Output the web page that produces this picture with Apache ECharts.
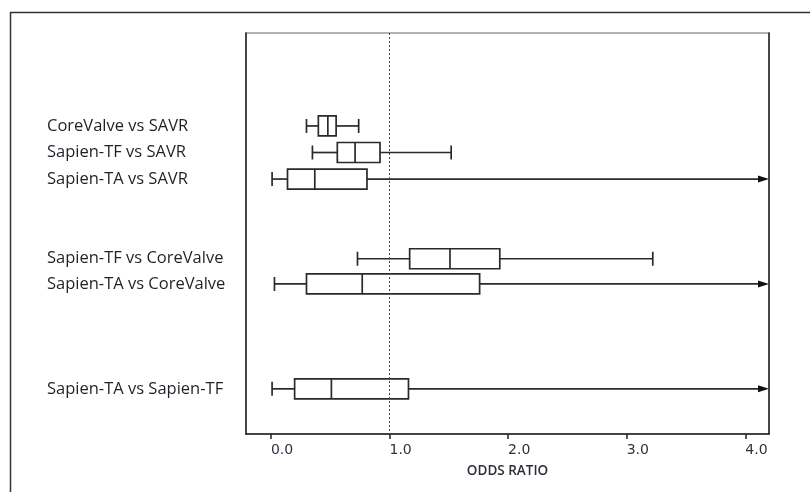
<!DOCTYPE html>
<html>
<head>
    <meta charset="utf-8">
    <title>Odds ratio boxplot</title>
    <script src="https://cdn.jsdelivr.net/npm/echarts@6/dist/echarts.min.js"></script>
</head>
<body style="margin:0">
<div id="main" style="width: 810px;height:492px;"></div>
<script type="text/javascript">
    // comparisons, top to bottom
    var labels = ['CoreValve vs SAVR', 'Sapien-TF vs SAVR', 'Sapien-TA vs SAVR',
        'Sapien-TF vs CoreValve', 'Sapien-TA vs CoreValve', 'Sapien-TA vs Sapien-TF']
    // row position on the (hidden) vertical axis
    var rowPos = [3.5, 4.5, 5.5, 8.5, 9.45, 13.4]
    // box values (odds ratio)
    var lowWhisker = [0.30, 0.35, 0.01, 0.73, 0.03, 0.01]
    var q1 = [0.40, 0.56, 0.14, 1.17, 0.30, 0.20]
    var median = [0.48, 0.71, 0.37, 1.51, 0.77, 0.51]
    var q3 = [0.55, 0.92, 0.81, 1.93, 1.76, 1.16]
    // null = whisker runs past the end of the axis (arrow)
    var highWhisker = [0.74, 1.52, null, 3.22, null, null]
    var xTicks = [0, 1, 2, 3, 4]
    var refLine = 1.0

    var lineCol = '#2a2a2a'

    function renderBox(params, api) {
        var i = params.dataIndex
        var cs = params.coordSys
        var y = api.coord([0, rowPos[i]])[1]
        var xl = api.coord([lowWhisker[i], 0])[0]
        var x1 = api.coord([q1[i], 0])[0]
        var xm = api.coord([median[i], 0])[0]
        var x3 = api.coord([q3[i], 0])[0]
        var xr = highWhisker[i] == null ? cs.x + cs.width : api.coord([highWhisker[i], 0])[0]
        var bh = 10, ch = 7
        var st = {stroke: lineCol, lineWidth: 1.7, fill: null}
        var kids = [
            {type: 'line', shape: {x1: xl, y1: y, x2: x1, y2: y}, style: st},
            {type: 'line', shape: {x1: xl, y1: y - ch, x2: xl, y2: y + ch}, style: st},
            {type: 'rect', shape: {x: x1, y: y - bh, width: x3 - x1, height: bh * 2}, style: {stroke: lineCol, lineWidth: 1.7, fill: '#fff'}},
            {type: 'line', shape: {x1: xm, y1: y - bh, x2: xm, y2: y + bh}, style: st},
            {type: 'text', style: {x: cs.x - 199, y: y, text: labels[i], fill: '#1e2228',
                    font: '16.5px "Open Sans"', verticalAlign: 'middle'}}
        ]
        if (highWhisker[i] == null) {
            kids.push({type: 'line', shape: {x1: x3, y1: y, x2: xr - 6, y2: y}, style: st})
            kids.push({type: 'polygon', shape: {points: [[xr - 11, y - 3.5], [xr, y], [xr - 11, y + 3.5]]},
                style: {fill: '#111'}})
        } else {
            kids.push({type: 'line', shape: {x1: x3, y1: y, x2: xr, y2: y}, style: st})
            kids.push({type: 'line', shape: {x1: xr, y1: y - ch, x2: xr, y2: y + ch}, style: st})
        }
        return {type: 'group', children: kids}
    }

    var myChart = echarts.init(document.getElementById('main'))

    var option = {
        animation: false,
        backgroundColor: '#fff',
        graphic: [{
            type: 'rect', left: 8, top: 10, z: 0,
            shape: {width: 900, height: 600},
            style: {fill: null, stroke: '#333', lineWidth: 1.5}
        }],
        grid: {left: 246, top: 33, right: 41, bottom: 58, show: true, borderColor: '#999', borderWidth: 1.5},
        xAxis: {
            type: 'value', min: -0.21, max: 4.2,
            splitLine: {show: false},
            axisLine: {show: true, onZero: false, lineStyle: {color: '#222', width: 1.5}},
            axisTick: {show: true, customValues: xTicks, length: 5, lineStyle: {color: '#222', width: 1.5}},
            axisLabel: {customValues: xTicks, align: 'left', margin: 9, color: '#2b3440',
                fontFamily: 'DejaVu Sans', fontSize: 14,
                formatter: function (v) { return v.toFixed(1) }},
            name: 'ODDS RATIO', nameLocation: 'middle', nameGap: 30,
            nameTextStyle: {color: '#2b2f36', fontFamily: 'Open Sans', fontSize: 13.5, fontWeight: 600}
        },
        yAxis: [{
            type: 'value', min: 0, max: 15.1, inverse: true,
            axisLine: {show: true, onZero: false, lineStyle: {color: '#222', width: 1.5}},
            axisTick: {show: false}, axisLabel: {show: false}, splitLine: {show: false}
        }, {
            type: 'value', min: 0, max: 15.1, inverse: true, position: 'right',
            axisLine: {show: true, onZero: false, lineStyle: {color: '#222', width: 1.5}},
            axisTick: {show: false}, axisLabel: {show: false}, splitLine: {show: false}
        }],
        series: [{
            type: 'custom',
            renderItem: renderBox,
            data: rowPos.map(function (p, i) { return [median[i], p] }),
            z: 3,
            markLine: {
                silent: true, symbol: 'none', label: {show: false},
                lineStyle: {color: '#444', type: [2, 2], width: 1},
                data: [{xAxis: refLine}]
            }
        }]
    }

    myChart.setOption(option)
</script>
</body>
</html>
